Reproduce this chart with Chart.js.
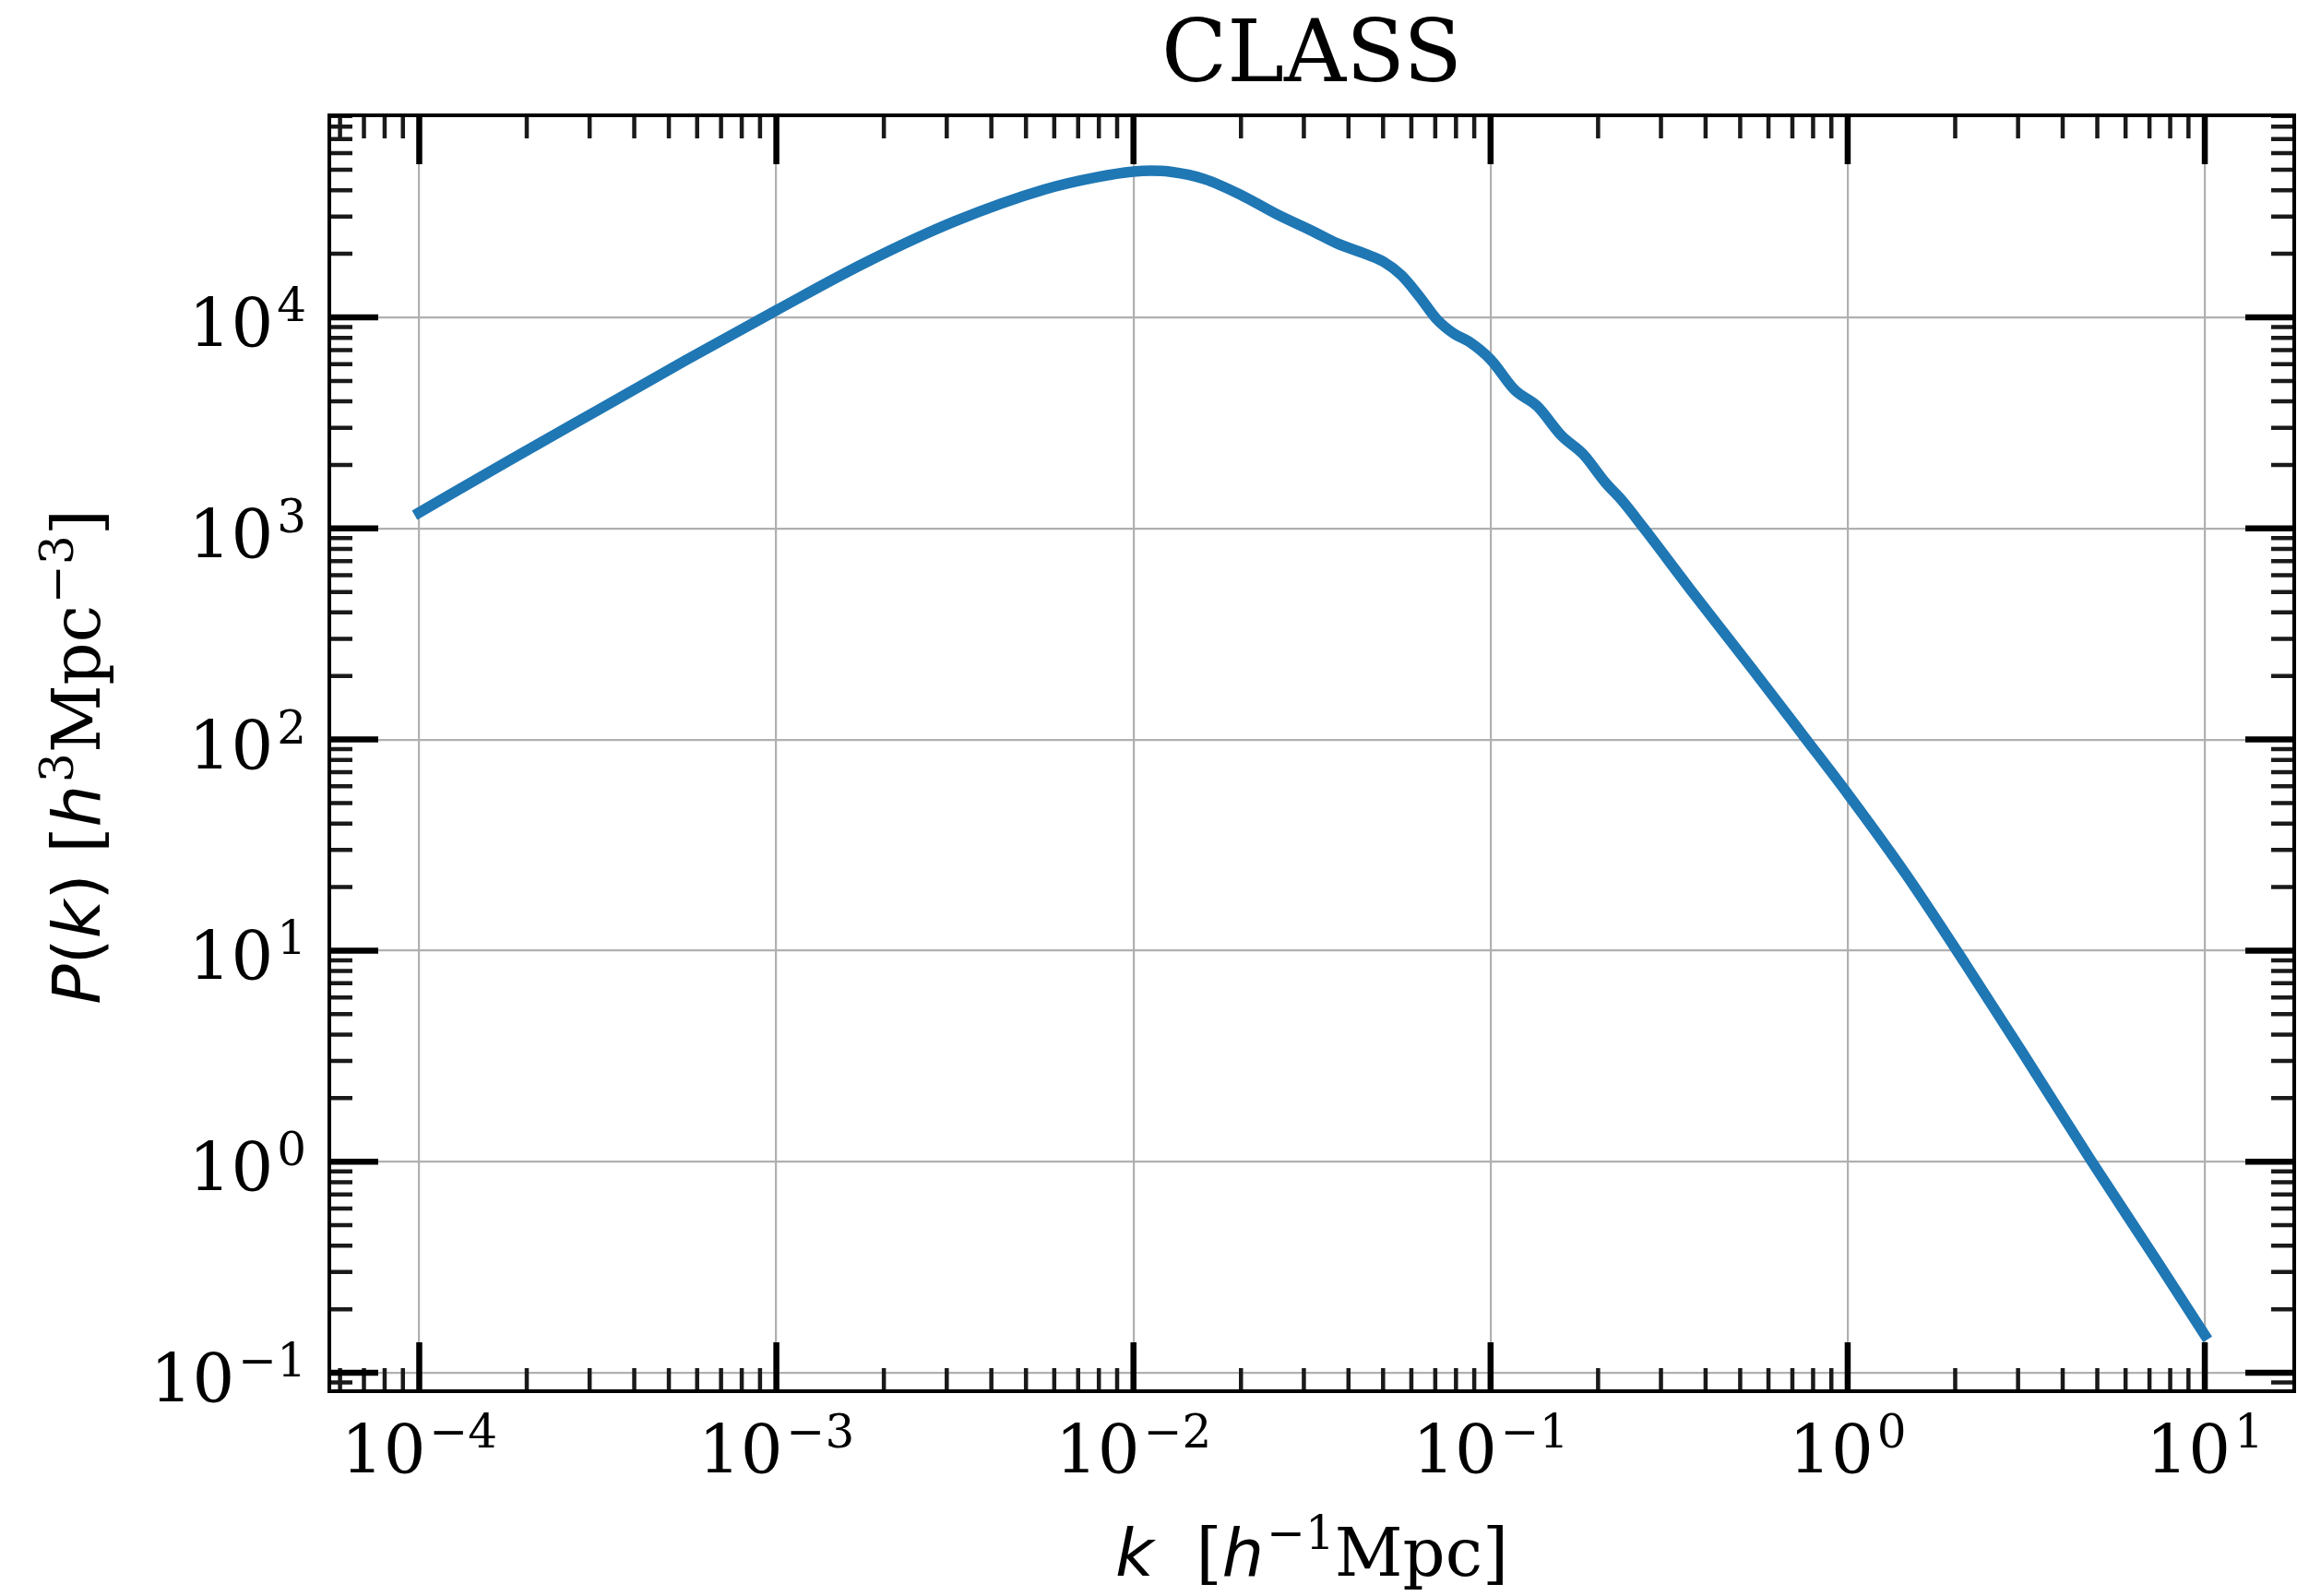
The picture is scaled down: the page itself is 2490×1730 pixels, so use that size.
<!DOCTYPE html>
<html>
<head>
<meta charset="utf-8">
<title>CLASS P(k)</title>
<script src="https://cdn.jsdelivr.net/npm/chart.js"></script>
<style>
  html, body { margin: 0; padding: 0; background: #fff; }
  canvas { display: block; }
</style>
</head>
<body>
<canvas id="pk" width="2490" height="1730"></canvas>
<script>
// k in h/Mpc, P(k) in (Mpc/h)^3
const kValues = [
  1e-4, 1.78e-4, 3.16e-4, 5.62e-4, 1e-3, 1.78e-3, 3.16e-3, 5.62e-3, 7.94e-3,
  1e-2, 1.12e-2, 1.26e-2, 1.58e-2, 2.0e-2, 2.51e-2, 3.16e-2, 3.72e-2, 4.47e-2, 5.0e-2,
  5.62e-2, 6.31e-2, 7.08e-2, 7.94e-2, 8.7e-2, 0.1, 0.117, 0.135, 0.158, 0.182,
  0.209, 0.234, 0.269, 0.363, 0.537, 0.759, 1.0, 1.45, 2.14, 3.16, 4.79, 7.41, 10
];
const pkValues = [
  1190, 2090, 3630, 6310, 10800, 18200, 28500, 40300, 46200,
  49000, 49500, 49000, 45200, 38000, 30900, 25700, 22400, 19950, 18400,
  15850, 12600, 9770, 8320, 7670, 6310, 4520, 3800, 2750, 2240,
  1660, 1350, 1000, 513, 219, 102, 55.3, 23.2, 8.61, 3.09, 1.02, 0.331, 0.151
];

const xMajor = [1e-4, 1e-3, 1e-2, 1e-1, 1, 10];
const xTickExp = ["\u22124", "\u22123", "\u22122", "\u22121", "0", "1"];
const yMajor = [1e-1, 1, 10, 100, 1e3, 1e4];
const yTickExp = ["\u22121", "0", "1", "2", "3", "4"];
const xLimits = [5.6e-5, 17.8];
const yLimits = [0.0818, 90600];

const SERIF = '"DejaVu Serif", serif';
const SANS = '"DejaVu Sans", sans-serif';

function minorTicks(lim) {
  const out = [];
  const d0 = Math.floor(Math.log10(lim[0]));
  const d1 = Math.ceil(Math.log10(lim[1]));
  for (let d = d0; d <= d1; d++) {
    for (let m = 2; m <= 9; m++) {
      const v = m * Math.pow(10, d);
      if (v >= lim[0] && v <= lim[1]) out.push(v);
    }
  }
  return out;
}

// draw runs of text with mixed fonts / superscripts
function drawRich(ctx, runs, x, y, align) {
  let total = 0;
  runs.forEach(r => {
    ctx.font = r.font;
    r.w = ctx.measureText(r.text).width + (r.gap || 0);
    total += r.w;
  });
  let cx = align === "center" ? x - total / 2 : align === "right" ? x - total : x;
  ctx.textAlign = "left";
  ctx.textBaseline = "alphabetic";
  runs.forEach(r => {
    ctx.font = r.font;
    ctx.fillText(r.text, cx + (r.gap || 0), y + (r.dy || 0));
    cx += r.w;
  });
}

function powerLabel(exp) {
  return [
    { text: "10", font: "72px " + SERIF },
    { text: exp, font: "50px " + SERIF, dy: -28, gap: 4 }
  ];
}

const framePlugin = {
  id: "frame",
  afterDatasetsDraw(chart) {
    const ctx = chart.ctx;
    const a = chart.chartArea;
    const xs = chart.scales.x;
    const ys = chart.scales.y;
    ctx.save();
    ctx.lineCap = "butt";

    // minor ticks, inward on all sides
    ctx.lineWidth = 4.5;
    ctx.strokeStyle = "#1a1a1a";
    minorTicks(xLimits).forEach(v => {
      const px = xs.getPixelForValue(v);
      ctx.beginPath();
      ctx.moveTo(px, a.bottom); ctx.lineTo(px, a.bottom - 25);
      ctx.moveTo(px, a.top); ctx.lineTo(px, a.top + 25);
      ctx.stroke();
    });
    minorTicks(yLimits).forEach(v => {
      const py = ys.getPixelForValue(v);
      ctx.beginPath();
      ctx.moveTo(a.left, py); ctx.lineTo(a.left + 25, py);
      ctx.moveTo(a.right, py); ctx.lineTo(a.right - 25, py);
      ctx.stroke();
    });

    // major ticks
    ctx.lineWidth = 6.5;
    ctx.strokeStyle = "#000";
    xMajor.forEach(v => {
      const px = xs.getPixelForValue(v);
      ctx.beginPath();
      ctx.moveTo(px, a.bottom); ctx.lineTo(px, a.bottom - 53);
      ctx.moveTo(px, a.top); ctx.lineTo(px, a.top + 53);
      ctx.stroke();
    });
    yMajor.forEach(v => {
      const py = ys.getPixelForValue(v);
      ctx.beginPath();
      ctx.moveTo(a.left, py); ctx.lineTo(a.left + 53, py);
      ctx.moveTo(a.right, py); ctx.lineTo(a.right - 53, py);
      ctx.stroke();
    });

    // frame
    ctx.lineWidth = 4;
    ctx.strokeRect(a.left, a.top, a.right - a.left, a.bottom - a.top);

    // tick labels
    ctx.fillStyle = "#000";
    xMajor.forEach((v, i) => {
      drawRich(ctx, powerLabel(xTickExp[i]), xs.getPixelForValue(v), a.bottom + 89, "center");
    });
    yMajor.forEach((v, i) => {
      drawRich(ctx, powerLabel(yTickExp[i]), a.left - 25, ys.getPixelForValue(v) + 32, "right");
    });

    const midX = (a.left + a.right) / 2;
    const midY = (a.top + a.bottom) / 2;

    // title
    drawRich(ctx, [{ text: "CLASS", font: "93px " + SERIF }], midX, 88, "center");

    // x axis label
    drawRich(ctx, [
      { text: "k", font: "italic 72px " + SANS },
      { text: "  [", font: "72px " + SERIF },
      { text: "h", font: "italic 72px " + SANS },
      { text: "\u22121", font: "50px " + SERIF, dy: -29, gap: 3 },
      { text: "Mpc]", font: "72px " + SERIF }
    ], midX, 1708, "center");

    // y axis label
    ctx.translate(108, midY + 4);
    ctx.rotate(-Math.PI / 2);
    drawRich(ctx, [
      { text: "P", font: "italic 72px " + SANS },
      { text: "(", font: "72px " + SANS },
      { text: "k", font: "italic 72px " + SANS },
      { text: ")", font: "72px " + SANS },
      { text: " [", font: "72px " + SERIF },
      { text: "h", font: "italic 72px " + SANS },
      { text: "3", font: "50px " + SERIF, dy: -29, gap: 3 },
      { text: "Mpc", font: "72px " + SERIF },
      { text: "\u22123", font: "50px " + SERIF, dy: -29, gap: 2 },
      { text: "]", font: "72px " + SERIF }
    ], 0, 0, "center");
    ctx.restore();
  }
};

new Chart(document.getElementById("pk"), {
  type: "line",
  data: {
    datasets: [{
      data: kValues.map((k, i) => ({ x: k, y: pkValues[i] })),
      borderColor: "#1f77b4",
      borderWidth: 11.5,
      borderCapStyle: "square",
      borderJoinStyle: "round",
      pointRadius: 0,
      cubicInterpolationMode: "monotone",
      fill: false
    }]
  },
  options: {
    responsive: false,
    devicePixelRatio: 1,
    animation: false,
    layout: { padding: { top: 125, right: 3, left: 0, bottom: 0 } },
    plugins: { legend: { display: false }, tooltip: { enabled: false }, title: { display: false } },
    scales: {
      x: {
        type: "logarithmic",
        min: xLimits[0],
        max: xLimits[1],
        afterBuildTicks: s => { s.ticks = xMajor.map(v => ({ value: v })); },
        afterFit: s => { s.height = 222; },
        ticks: { display: false },
        grid: { color: "#b0b0b0", lineWidth: 2.2, drawTicks: false },
        border: { display: false }
      },
      y: {
        type: "logarithmic",
        min: yLimits[0],
        max: yLimits[1],
        afterBuildTicks: s => { s.ticks = yMajor.map(v => ({ value: v })); },
        afterFit: s => { s.width = 357; },
        ticks: { display: false },
        grid: { color: "#b0b0b0", lineWidth: 2.2, drawTicks: false },
        border: { display: false }
      }
    }
  },
  plugins: [framePlugin]
});
</script>
</body>
</html>
